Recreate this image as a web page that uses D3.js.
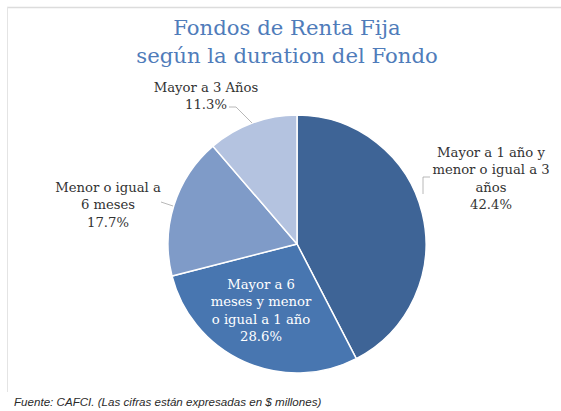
<!DOCTYPE html>
<html><head><meta charset="utf-8">
<script src="https://cdn.jsdelivr.net/npm/d3@7/dist/d3.min.js"></script>
<style>
html,body{margin:0;padding:0;background:#fff;}
svg{display:block;}
</style></head>
<body>
<script>
const titleLines = ["Fondos de Renta Fija", "según la duration del Fondo"];
const categories = ["Mayor a 1 año y menor o igual a 3 años", "Mayor a 6 meses y menor o igual a 1 año", "Menor o igual a 6 meses", "Mayor a 3 Años"];
const values = [42.4, 28.6, 17.7, 11.3];
const labelLines = [
  ["Mayor a 1 año y", "menor o igual a 3", "años", "42.4%"],
  ["Mayor a 6", "meses y menor", "o igual a 1 año", "28.6%"],
  ["Menor o igual a", "6 meses", "17.7%"],
  ["Mayor a 3 Años", "11.3%"]
];
const colors = ["#3e6496", "#4876b0", "#7f9bc8", "#b4c3e0"];
const source = "Fuente: CAFCI. (Las cifras están expresadas en $ millones)";

const W = 561, H = 411;
const svg = d3.select("body").append("svg").attr("width", W).attr("height", H);

// frame lines
svg.append("line").attr("x1", 7).attr("x2", W).attr("y1", 7.5).attr("y2", 7.5).attr("stroke", "#dcdcdc").attr("stroke-width", 1.5);
svg.append("line").attr("x1", 7.5).attr("x2", 7.5).attr("y1", 7).attr("y2", 392).attr("stroke", "#e4e4e4").attr("stroke-width", 1);

// title
const title = svg.append("text").attr("text-anchor", "middle")
  .attr("font-family", "DejaVu Serif").attr("font-size", 21.2).attr("fill", "#4f7cba");
titleLines.forEach((t, i) => title.append("tspan").attr("x", 287).attr("y", 35 + i * 28).text(t));

const cx = 297, cy = 244, R = 129;
const pie = d3.pie().sort(null).value(d => d)(values);
const arc = d3.arc().innerRadius(0).outerRadius(R);
const g = svg.append("g").attr("transform", `translate(${cx},${cy})`);
g.selectAll("path").data(pie).join("path")
  .attr("d", arc).attr("fill", (d, i) => colors[i])
  .attr("stroke", "#fff").attr("stroke-width", 1.5);

// label positions (relative to page)
const labelPos = [
  {x: 491, y: 157, fill: "#333"},
  {x: 261, y: 289, fill: "#fff"},
  {x: 108, y: 192, fill: "#333"},
  {x: 206, y: 92, fill: "#333"}
];
const lineH = 17.3;
labelLines.forEach((lines, i) => {
  const t = svg.append("text").attr("text-anchor", "middle")
    .attr("font-family", "DejaVu Serif").attr("font-size", 13.2).attr("fill", labelPos[i].fill);
  lines.forEach((l, j) => t.append("tspan").attr("x", labelPos[i].x).attr("y", labelPos[i].y + j * lineH).text(l));
});

// leader lines
const leader = d3.line();
const leaders = [
  [[430, 177], [423, 177], [423, 194]],
  [[161, 202], [173, 206]],
  [[229, 107], [236, 107], [252, 123]]
];
leaders.forEach(p => svg.append("path").attr("d", leader(p)).attr("fill", "none").attr("stroke", "#a6a6a6").attr("stroke-width", 0.8));

svg.append("text").attr("x", 14).attr("y", 406)
  .attr("font-family", "Liberation Sans").attr("font-style", "italic").attr("font-size", 11.6).attr("fill", "#2a2a2a")
  .text(source);
</script>
</body></html>
